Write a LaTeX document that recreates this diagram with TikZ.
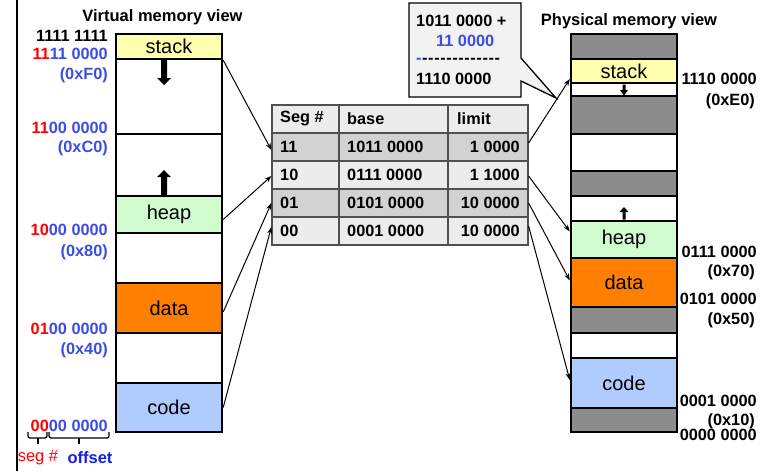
\documentclass[tikz,border=0pt]{standalone}
\usepackage{fontspec}
\setmainfont{Liberation Sans}
\usetikzlibrary{arrows.meta,calc}
\definecolor{lblue}{RGB}{59,77,228}
\definecolor{obl}{RGB}{20,30,235}
\definecolor{myred}{RGB}{255,0,0}
\definecolor{stackc}{RGB}{255,255,176}
\definecolor{heapc}{RGB}{208,252,208}
\definecolor{datac}{RGB}{255,128,0}
\definecolor{codec}{RGB}{176,204,255}
\definecolor{memg}{RGB}{140,140,140}
\definecolor{tabl}{RGB}{236,236,236}
\definecolor{tabd}{RGB}{210,210,210}
\definecolor{tline}{RGB}{80,80,80}
\definecolor{callf}{RGB}{242,242,242}
\begin{document}
\begin{tikzpicture}[x=1pt,y=-1pt,
  seg/.style={draw,line width=2.4pt,minimum width=106pt,inner sep=0pt,font=\fontsize{20}{22}\selectfont},
  gseg/.style={seg,fill=memg},
  lbl/.style={inner sep=0pt,font=\fontsize{16.3}{18}\selectfont\bfseries},
  ttl/.style={inner sep=0pt,font=\fontsize{16.5}{19}\selectfont\bfseries},
  trow/.style={draw=tline,line width=1.2pt,minimum width=256pt,minimum height=28pt,inner sep=0pt},
  conn/.style={line width=1pt,-{Stealth[length=7pt,width=5pt]}},
  blk/.style={fill=black}]
\useasboundingbox (0,0) rectangle (761,471);
\draw[line width=1.5pt] (17,0) -- (17,471);

% titles
\node[ttl] (vtitle) at (162.5,17) {Virtual memory view};
\node[ttl] (ptitle) at (629,21) {Physical memory view};

% virtual memory column
\node[seg,fill=stackc,minimum height=25pt] (vstack) at (169,46.5) {stack};
\node[seg,minimum height=75pt] (vfree1) at (169,96.5) {};
\node[seg,minimum height=62pt] (vfree2) at (169,165) {};
\node[seg,fill=heapc,minimum height=37pt] (vheap) at (169,214.5) {heap};
\node[seg,minimum height=50pt] (vfree3) at (169,258) {};
\node[seg,fill=datac,minimum height=50pt] (vdata) at (169,308) {data};
\node[seg,minimum height=50pt] (vfree4) at (169,358) {};
\node[seg,fill=codec,minimum height=49pt] (vcode) at (169,407.5) {code};
\fill (161,59) -- (167,59) -- (167,78) -- (171,78) -- (164,85) -- (157,78) -- (161,78) -- cycle;
\fill (161,196) -- (167,196) -- (167,177) -- (171,177) -- (164,170) -- (157,177) -- (161,177) -- cycle;

% virtual labels
\node[lbl,anchor=east] (va1) at (108,36) {1111 1111};
\node[lbl,anchor=east] (va2) at (108,54) {\textcolor{myred}{11}\textcolor{lblue}{11 0000}};
\node[lbl,anchor=east,text=lblue] (va2h) at (108,75) {(0xF0)};
\node[lbl,anchor=east] (va3) at (108,127.5) {\textcolor{myred}{11}\textcolor{lblue}{00 0000}};
\node[lbl,anchor=east,text=lblue] (va3h) at (108,148) {(0xC0)};
\node[lbl,anchor=east] (va4) at (108,230) {\textcolor{myred}{10}\textcolor{lblue}{00 0000}};
\node[lbl,anchor=east,text=lblue] (va4h) at (108,252) {(0x80)};
\node[lbl,anchor=east] (va5) at (108,329) {\textcolor{myred}{01}\textcolor{lblue}{00 0000}};
\node[lbl,anchor=east,text=lblue] (va5h) at (108,350) {(0x40)};
\node[lbl,anchor=east] (va6) at (108,426) {\textcolor{myred}{00}\textcolor{lblue}{00 0000}};
\draw[line width=1.3pt,rounded corners=2pt] (28,432) -- (28,438) -- (47,438) -- (47,432);
\draw[line width=1.3pt] (38,438) -- (38,444);
\draw[line width=1.3pt,rounded corners=2pt] (49,432) -- (49,438) -- (109,438) -- (109,432);
\draw[line width=1.3pt] (79,438) -- (79,444);
\node[inner sep=0pt,font=\fontsize{16.5}{19}\selectfont,text=myred] (segl) at (38,458) {seg \#};
\node[inner sep=0pt,font=\fontsize{16.5}{19}\selectfont\bfseries,text=obl] (offl) at (90,458) {offset};

% physical memory column
\node[gseg,minimum height=25pt] (p1) at (624,46.5) {};
\node[seg,fill=stackc,minimum height=24pt] (pstack) at (624,71) {stack};
\node[seg,minimum height=13pt] (p2) at (624,89.5) {};
\node[gseg,minimum height=38pt] (p3) at (624,115) {};
\node[seg,minimum height=37pt] (p4) at (624,152.5) {};
\node[gseg,minimum height=25pt] (p5) at (624,183.5) {};
\node[seg,minimum height=25pt] (p6) at (624,208.5) {};
\node[seg,fill=heapc,minimum height=37pt] (pheap) at (624,239.5) {heap};
\node[seg,fill=datac,minimum height=49pt] (pdata) at (624,282.5) {data};
\node[gseg,minimum height=26pt] (p7) at (624,320) {};
\node[seg,minimum height=25pt] (p8) at (624,345.5) {};
\node[seg,fill=codec,minimum height=50pt] (pcode) at (624,383) {code};
\node[gseg,minimum height=24pt] (p9) at (624,420) {};
\fill (622.5,84.5) -- (625.5,84.5) -- (625.5,90) -- (628,90) -- (624,95.5) -- (620,90) -- (622.5,90) -- cycle;
\fill (622.5,219.5) -- (625.5,219.5) -- (625.5,212) -- (628.5,212) -- (624,207) -- (619.5,212) -- (622.5,212) -- cycle;

% physical labels
\node[lbl,anchor=east] (pa1) at (757,79) {1110 0000};
\node[lbl,anchor=east] (pa1h) at (755,101) {(0xE0)};
\node[lbl,anchor=east] (pa2) at (757,252) {0111 0000};
\node[lbl,anchor=east] (pa2h) at (755,272.5) {(0x70)};
\node[lbl,anchor=east] (pa3) at (757,299) {0101 0000};
\node[lbl,anchor=east] (pa3h) at (755,320) {(0x50)};
\node[lbl,anchor=east] (pa4) at (757,400.5) {0001 0000};
\node[lbl,anchor=east] (pa4h) at (755,421) {(0x10)};
\node[lbl,anchor=east] (pa5) at (757,434.5) {0000 0000};

% segment table
\node[trow,fill=tabl] (rh) at (400,119) {};
\node[trow,fill=tabd] (r11) at (400,147) {};
\node[trow,fill=tabl] (r10) at (400,175) {};
\node[trow,fill=tabd] (r01) at (400,203) {};
\node[trow,fill=tabl] (r00) at (400,231) {};
\draw[tline,line width=1.2pt] (rh.north west -| 339,0) -- (r00.south west -| 339,0);
\draw[tline,line width=1.2pt] (rh.north west -| 448,0) -- (r00.south west -| 448,0);
\node[lbl,anchor=west] (hseg) at (280,119) {Seg \#};
\node[lbl,anchor=west] (hbase) at (347,119) {base};
\node[lbl,anchor=west] (hlim) at (457,119) {limit};
\node[lbl,anchor=west] (s11) at (280,147) {11};
\node[lbl,anchor=west] (b11) at (347,147) {1011 0000};
\node[lbl,anchor=east] (l11) at (520,147) {1 0000};
\node[lbl,anchor=west] (s10) at (280,175) {10};
\node[lbl,anchor=west] (b10) at (347,175) {0111 0000};
\node[lbl,anchor=east] (l10) at (520,175) {1 1000};
\node[lbl,anchor=west] (s01) at (280,203) {01};
\node[lbl,anchor=west] (b01) at (347,203) {0101 0000};
\node[lbl,anchor=east] (l01) at (520,203) {10 0000};
\node[lbl,anchor=west] (s00) at (280,231) {00};
\node[lbl,anchor=west] (b00) at (347,231) {0001 0000};
\node[lbl,anchor=east] (l00) at (520,231) {10 0000};

% callout
\coordinate (tip) at (556,98);
\draw[fill=callf,line width=1.3pt,line join=miter] (409,3) -- (521,3) -- (521,58) -- (tip) -- (521,81) -- (521,97) -- (409,97) -- cycle;
\node[lbl,anchor=west] (c1) at (416,21) {1011 0000 +};
\node[lbl,anchor=west,text=lblue] (c2) at (436,41) {11 0000};
\node[lbl,anchor=west] (c3) at (416,61) {\textcolor{lblue}{-}\kern0.6pt-\kern0.6pt-\kern0.6pt-\kern0.6pt-\kern0.6pt-\kern0.6pt-\kern0.6pt-\kern0.6pt-\kern0.6pt-\kern0.6pt-\kern0.6pt-\kern0.6pt-\kern0.6pt-};
\node[lbl,anchor=west] (c4) at (416,79) {1110 0000};

% connectors virtual -> table
\draw[conn] (vstack.south east) -- ($(r11.west)+(0,3)$);
\draw[conn] ($(vheap.east)+(0,5)$) -- ($(r10.west)+(0,1)$);
\draw[conn] ($(vdata.east)+(0,4)$) -- (r01.west);
\draw[conn] (vcode.east) -- ($(r00.west)+(0,-4)$);
% connectors table -> physical
\draw[conn] ($(r11.east)+(0,-4)$) -- ($(pstack.west)+(0,8)$);
\draw[conn] ($(r10.east)+(0,1)$) -- ($(pheap.west)+(0,-8)$);
\draw[conn] (r01.east) -- ($(pdata.west)+(0,-2)$);
\draw[conn] ($(r00.east)+(0,-5)$) -- ($(pcode.west)+(0,-3)$);
\end{tikzpicture}
\end{document}
